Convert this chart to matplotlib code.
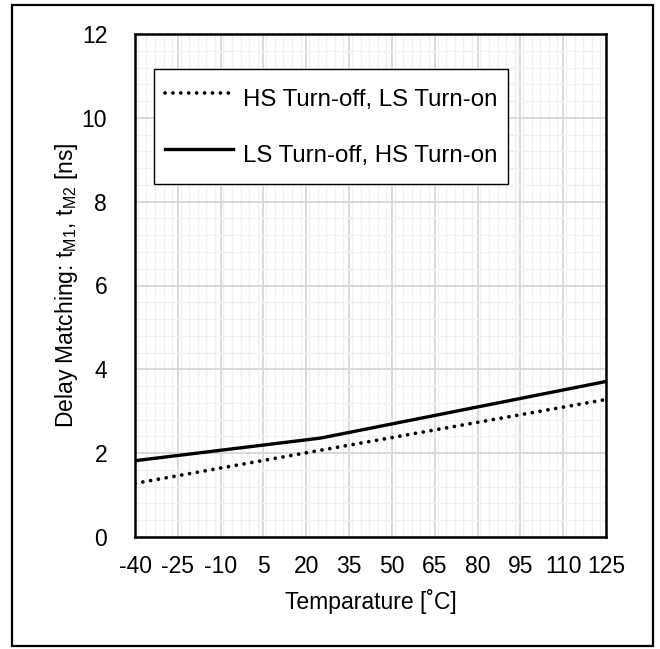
import matplotlib.pyplot as plt
from matplotlib.patches import Rectangle
from matplotlib.ticker import MultipleLocator

plt.rcParams['font.family'] = ['Liberation Sans', 'DejaVu Sans']
plt.rcParams['mathtext.fontset'] = 'custom'
plt.rcParams['mathtext.rm'] = 'Liberation Sans'
plt.rcParams['axes.unicode_minus'] = False

# data
temps = [-40, 25, 125]
hs_off_ls_on = [1.28, 2.07, 3.28]
ls_off_hs_on = [1.82, 2.36, 3.71]
x_ticks = [-40, -25, -10, 5, 20, 35, 50, 65, 80, 95, 110, 125]
y_ticks = [0, 2, 4, 6, 8, 10, 12]

fig = plt.figure(figsize=(6.6, 6.49), dpi=100)
ax = fig.add_axes([135 / 660, 1 - 537 / 649, 471 / 660, 503 / 649])

# outer frame around the whole chart
fig.patches.append(Rectangle((12 / 660, 1 - 646 / 649), 641 / 660, 641 / 649,
                             transform=fig.transFigure, fill=False,
                             edgecolor='black', linewidth=1.6))

ax.plot(temps, hs_off_ls_on, color='black', linewidth=2.7,
        linestyle=(0, (0.01, 2.1)), dash_capstyle='round',
        label='HS Turn-off, LS Turn-on')
ax.plot(temps, ls_off_hs_on, color='black', linewidth=2.4,
        label='LS Turn-off, HS Turn-on')

ax.set_xlim(-40, 125)
ax.set_ylim(0, 12)
ax.set_xticks(x_ticks)
ax.set_yticks(y_ticks)
ax.xaxis.set_minor_locator(MultipleLocator(3))
ax.yaxis.set_minor_locator(MultipleLocator(0.4))
ax.grid(which='major', color='#d9d9d9', linewidth=1.4)
ax.grid(which='minor', color='#f0f0f0', linewidth=1.0)
ax.set_axisbelow(True)
ax.tick_params(which='both', length=0)
ax.tick_params(axis='x', labelsize=16.5, pad=13)
ax.tick_params(axis='y', labelsize=16.5, pad=20)
for s in ax.spines.values():
    s.set_linewidth(1.8)
    s.set_color('black')

ax.set_xlabel('Temparature [˚C]', fontsize=16.5, labelpad=8)
ax.set_ylabel(r'Delay Matching: t$_{\mathregular{M1}}$, t$_{\mathregular{M2}}$ [ns]',
              fontsize=16.5, labelpad=1)

leg = ax.legend(loc='upper left', bbox_to_anchor=(154 / 660, 1 - 69 / 649),
                bbox_transform=fig.transFigure, borderaxespad=0,
                fontsize=17.3, handlelength=2.85, handletextpad=0.4,
                handleheight=1.95, borderpad=0.45, labelspacing=0.85,
                fancybox=False, framealpha=1, edgecolor='black')
leg.get_frame().set_linewidth(1.0)

fig.savefig('out.png', dpi=100)
